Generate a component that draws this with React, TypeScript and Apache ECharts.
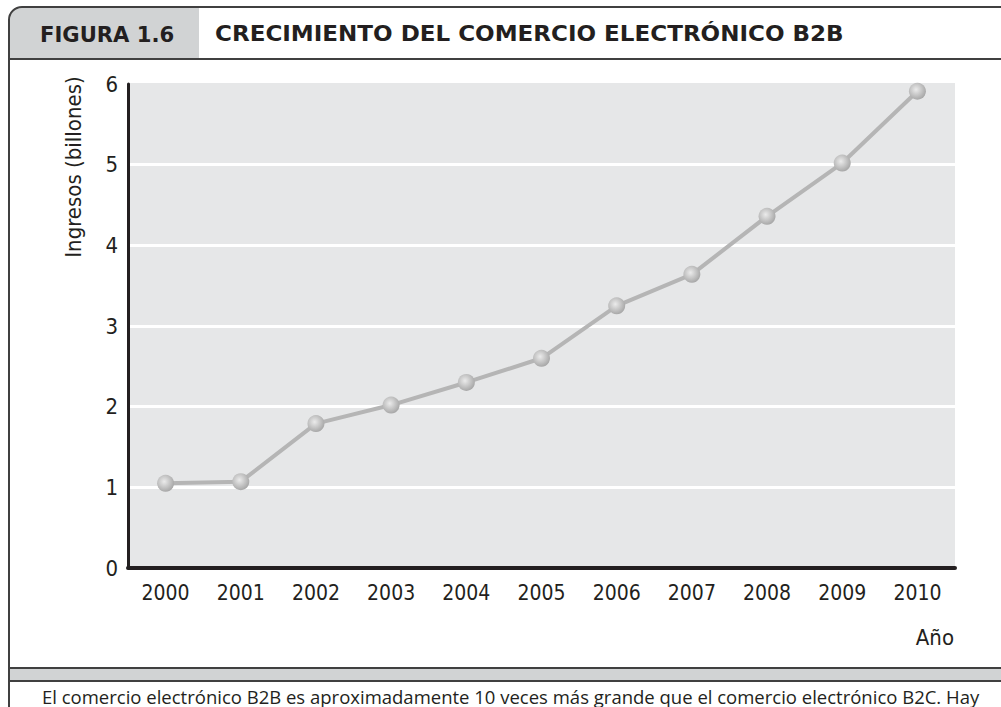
import React, { useEffect, useRef } from "react";
import * as echarts from "echarts";

const years = ["2000", "2001", "2002", "2003", "2004", "2005", "2006", "2007", "2008", "2009", "2010"];
const revenue = [1.05, 1.07, 1.79, 2.02, 2.3, 2.6, 3.25, 3.64, 4.36, 5.02, 5.91];
const yTicks = [0, 1, 2, 3, 4, 5, 6];

const figLabel = "FIGURA 1.6";
const title = "CRECIMIENTO DEL COMERCIO ELECTRÓNICO B2B";
const yName = "Ingresos (billones)";
const xName = "Año";
const caption =
  "El comercio electrónico B2B es aproximadamente 10 veces más grande que el comercio electrónico B2C. Hay";

const NARROW = "'DejaVu Sans Condensed', 'DejaVu Sans', sans-serif";
const HEAD = "'DejaVu Sans Condensed', 'DejaVu Sans', sans-serif";

export default function App() {
  const ref = useRef<HTMLDivElement>(null);
  useEffect(() => {
    document.body.style.margin = "0";
    const chart = echarts.init(ref.current!, null, { renderer: "svg" });
    const frame = "#404040";
    const option: any = {
      animation: false,
      backgroundColor: "#ffffff",
      grid: {
        left: 128,
        right: 46,
        top: 84,
        bottom: 139,
        show: true,
        backgroundColor: "#e6e7e8",
        borderWidth: 0,
      },
      xAxis: {
        type: "category",
        data: years,
        boundaryGap: true,
        axisLine: { show: true, lineStyle: { color: "#231f20", width: 4 } },
        axisTick: { show: false },
        axisLabel: {
          margin: 14,
          color: "#231f20",
          fontFamily: NARROW,
          fontSize: 21,
        },
        splitLine: { show: false },
      },
      yAxis: {
        type: "value",
        min: yTicks[0],
        max: yTicks[yTicks.length - 1],
        interval: 1,
        axisLine: { show: true, lineStyle: { color: "#231f20", width: 3 } },
        axisTick: { show: false },
        axisLabel: {
          margin: 10,
          color: "#231f20",
          fontFamily: NARROW,
          fontSize: 22,
        },
        splitLine: {
          show: true,
          lineStyle: {
            color: ["#e6e7e8", "#ffffff", "#ffffff", "#ffffff", "#ffffff", "#ffffff", "#e6e7e8"],
            width: 3,
          },
        },
      },
      series: [
        {
          type: "line",
          data: revenue,
          symbol: "circle",
          symbolSize: 17,
          lineStyle: { color: "#b5b5b5", width: 4 },
          itemStyle: {
            color: {
              type: "radial",
              x: 0.42,
              y: 0.4,
              r: 0.6,
              colorStops: [
                { offset: 0, color: "#ebebeb" },
                { offset: 1, color: "#a8a8a8" },
              ],
            },
            borderWidth: 0,
          },
          z: 3,
        },
      ],
      graphic: [
        {
          type: "rect",
          shape: { x: 9, y: 7, width: 1200, height: 900, r: [13, 0, 0, 0] },
          style: { fill: "none", stroke: frame, lineWidth: 2 },
          z: 10,
        },
        {
          type: "rect",
          shape: { x: 10, y: 8, width: 189, height: 51, r: [12, 0, 0, 0] },
          style: { fill: "#d1d3d4" },
          z: 9,
        },
        {
          type: "line",
          shape: { x1: 9, y1: 59, x2: 1001, y2: 59 },
          style: { stroke: frame, lineWidth: 2 },
          z: 10,
        },
        {
          type: "text",
          x: 40,
          y: 34,
          scaleX: 1.12,
          style: {
            text: figLabel,
            fontFamily: HEAD,
            fontWeight: "bold",
            fontSize: 21,
            fill: "#231f20",
            align: "left",
            verticalAlign: "middle",
          },
          z: 11,
        },
        {
          type: "text",
          x: 215,
          y: 34,
          scaleX: 1.22,
          style: {
            text: title,
            fontFamily: HEAD,
            fontWeight: "bold",
            fontSize: 21,
            fill: "#231f20",
            align: "left",
            verticalAlign: "middle",
          },
          z: 11,
        },
        {
          type: "text",
          x: 73,
          y: 167,
          rotation: Math.PI / 2,
          style: {
            text: yName,
            fontFamily: NARROW,
            fontSize: 22,
            fill: "#231f20",
            align: "center",
            verticalAlign: "middle",
          },
          z: 11,
        },
        {
          type: "text",
          x: 954,
          y: 637,
          style: {
            text: xName,
            fontFamily: NARROW,
            fontSize: 22,
            fill: "#231f20",
            align: "right",
            verticalAlign: "middle",
          },
          z: 11,
        },
        {
          type: "rect",
          shape: { x: 9, y: 668, width: 1000, height: 13 },
          style: { fill: "#d1d3d4", stroke: frame, lineWidth: 2 },
          z: 10,
        },
        {
          type: "text",
          x: 42,
          y: 686,
          style: {
            text: caption,
            fontFamily: "'Open Sans', sans-serif",
            fontSize: 18.5,
            lineHeight: 20,
            fill: "#231f20",
            align: "left",
            verticalAlign: "top",
          },
          z: 11,
        },
      ],
    };
    chart.setOption(option);
    return () => chart.dispose();
  }, []);
  return (
    <div
      ref={ref}
      style={{ position: "absolute", left: 0, top: 0, width: 1001, height: 707 }}
    />
  );
}
